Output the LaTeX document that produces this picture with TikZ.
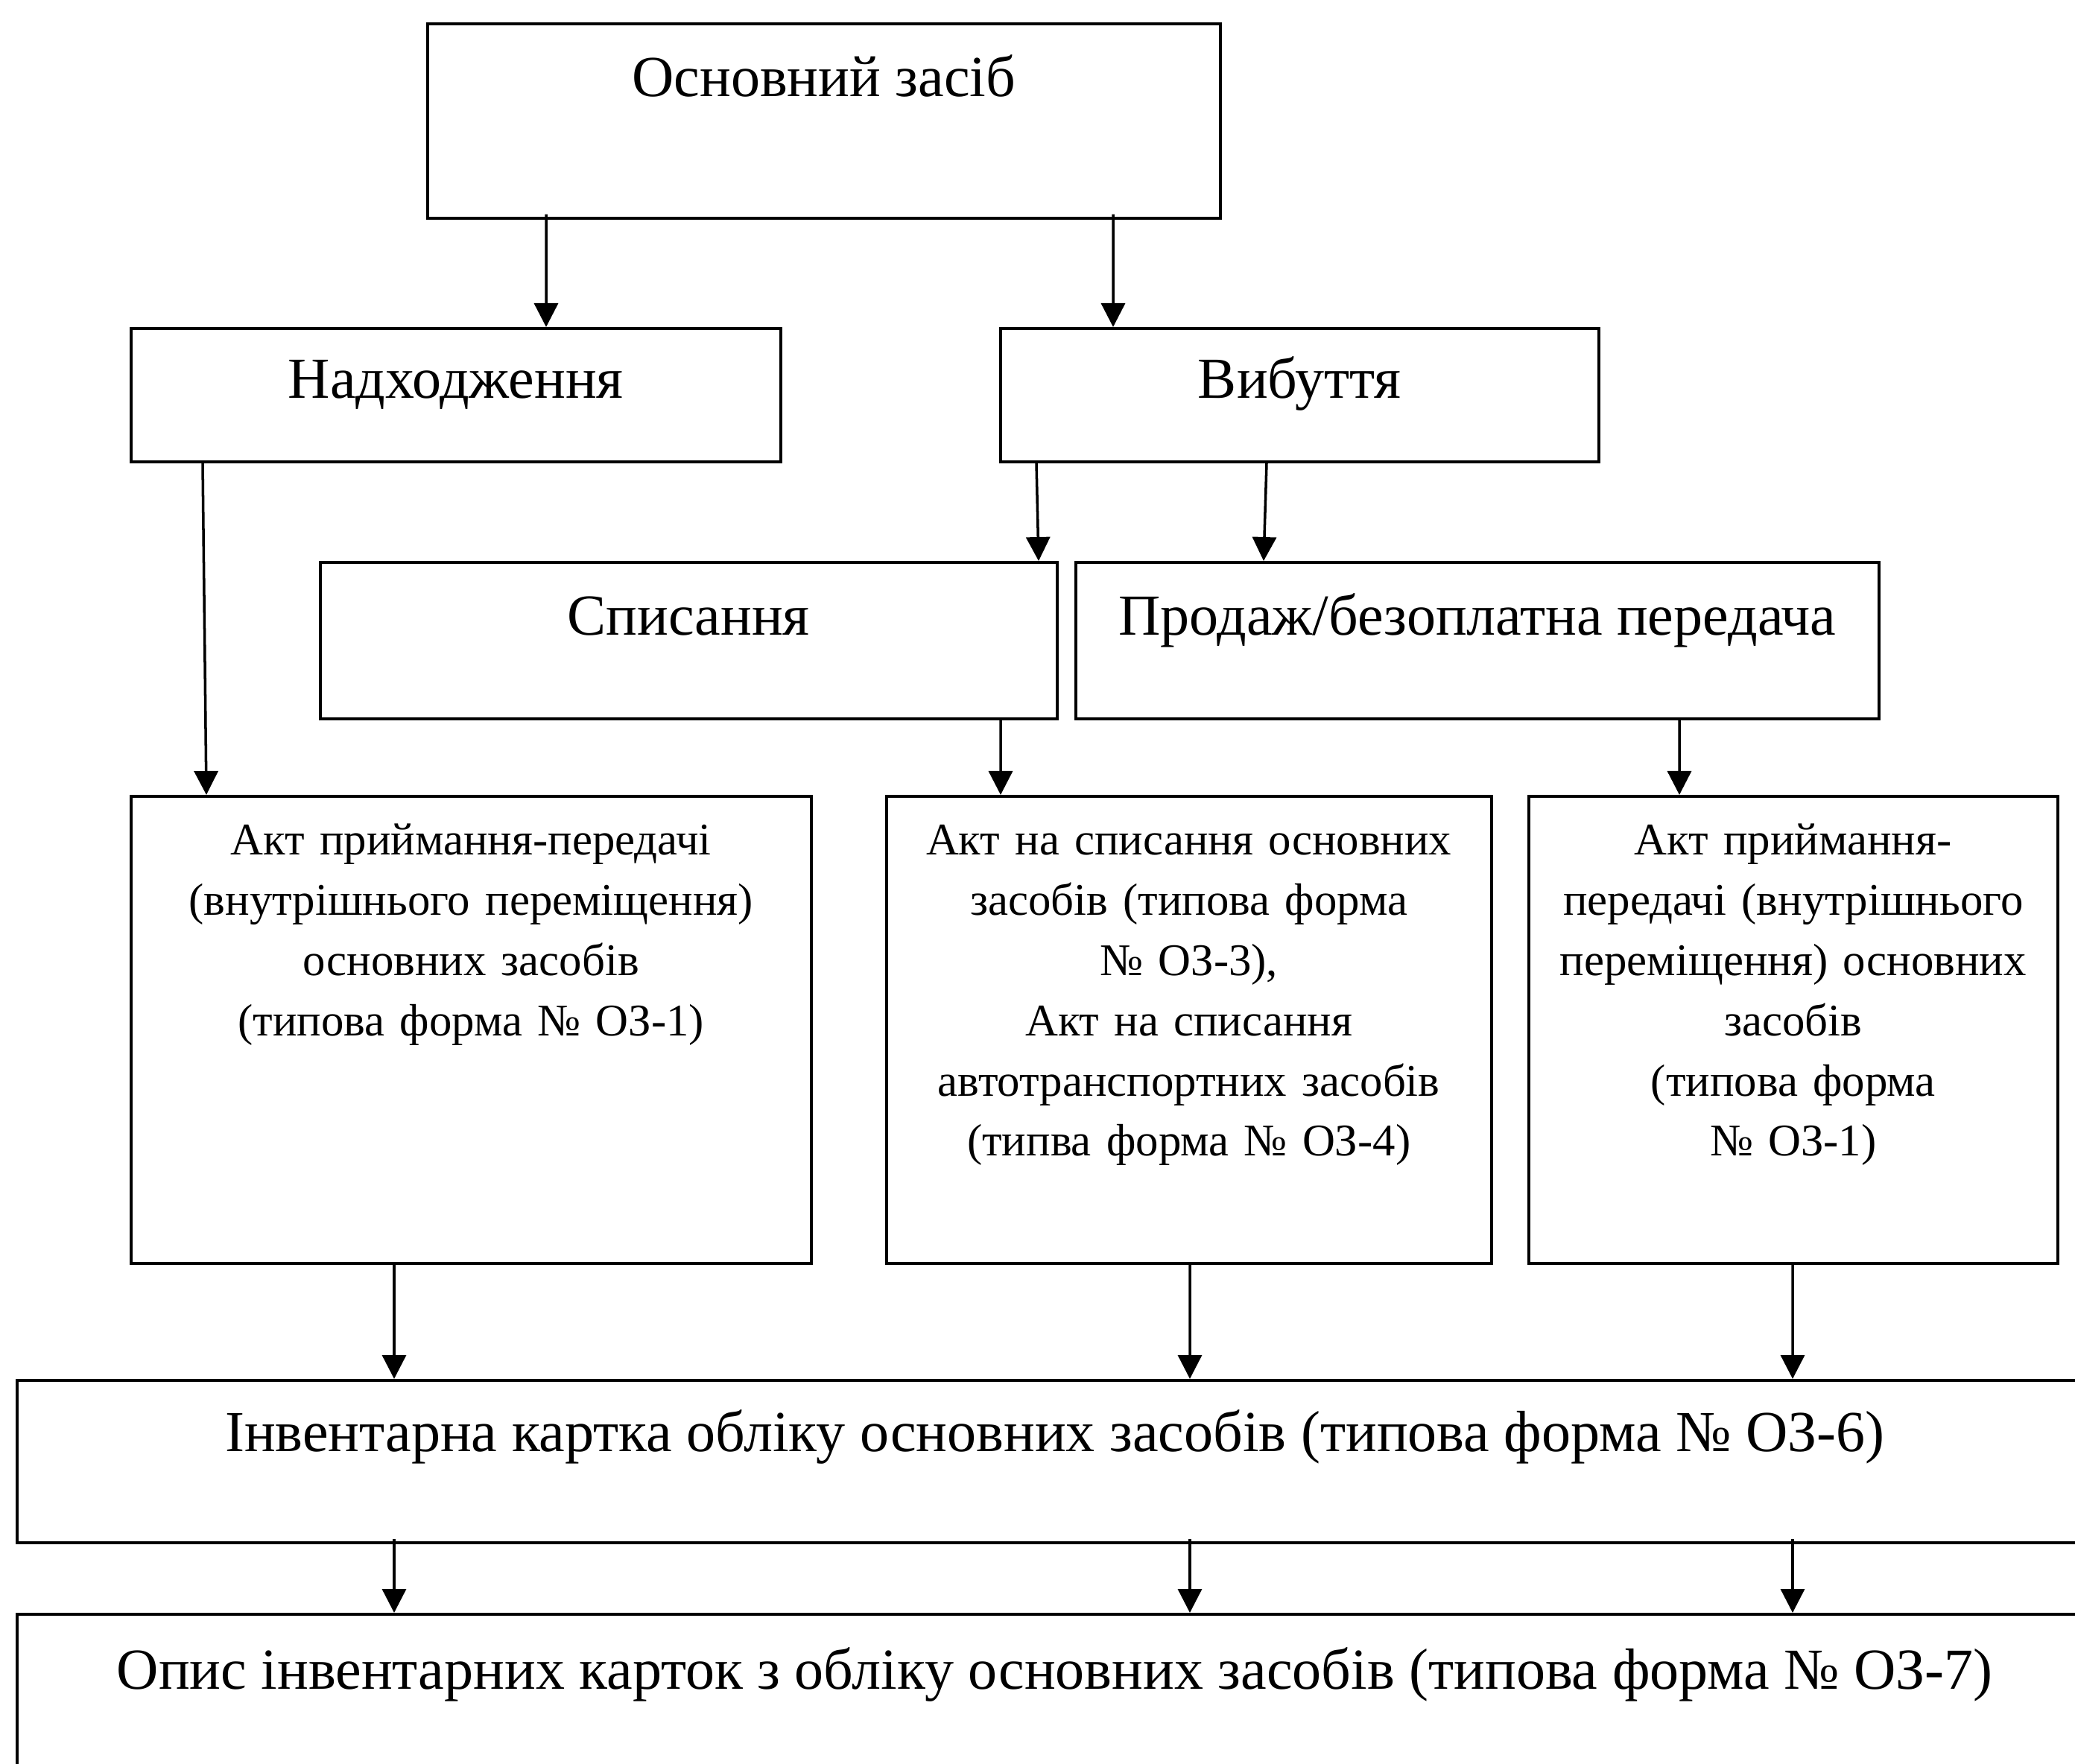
\documentclass[tikz,border=0pt]{standalone}
\usepackage{fontspec}
\setmainfont{Liberation Serif}
\usepackage{tikz}
\usetikzlibrary{arrows.meta}

\begin{document}
\begin{tikzpicture}[
  box/.style={draw, rectangle, line width=1pt, anchor=north west, inner sep=0pt},
  big/.style={font=\fontsize{22.2}{26}\selectfont},
  small/.style={font=\fontsize{17.3}{23}\selectfont, align=center},
  arr/.style={line width=1pt, -{Triangle[length=0.32cm, width=0.32cm]}}]
\useasboundingbox (0,0) rectangle (27.85,-23.68);
\clip (0,0) rectangle (27.85,-23.68);
% boxes
\node[box, big, minimum width=10.64cm, text height=0.98cm, text depth=1.63cm] (zasib) at (5.72,-0.30) {Основний засіб};
\node[box, big, minimum width=8.72cm, text height=0.94cm, text depth=0.85cm] (nadh) at (1.74,-4.39) {Надходження};
\node[box, big, minimum width=8.03cm, text height=0.94cm, text depth=0.85cm] (vyb) at (13.41,-4.39) {Вибуття};
\node[box, big, minimum width=9.89cm, text height=0.98cm, text depth=1.12cm] (spys) at (4.28,-7.53) {Списання};
\node[box, big, minimum width=10.78cm, text height=0.98cm, text depth=1.12cm] (prod) at (14.42,-7.53) {Продаж/безоплатна передача};
\node[box, small, text width=9.13cm, text height=0.79cm, text depth=5.48cm] (akt1) at (1.74,-10.67) {Акт приймання-передачі\\(внутрішнього переміщення)\\основних засобів\\(типова форма № ОЗ-1)};
\node[box, small, text width=8.12cm, text height=0.79cm, text depth=5.48cm] (akt2) at (11.88,-10.67) {Акт на списання основних\\засобів (типова форма\\№ ОЗ-3),\\Акт на списання\\автотранспортних засобів\\(типва форма № ОЗ-4)};
\node[box, small, text width=7.10cm, text height=0.79cm, text depth=5.48cm] (akt3) at (20.50,-10.67) {Акт приймання-\\передачі (внутрішнього\\переміщення) основних\\засобів\\(типова форма\\№ ОЗ-1)};
\node[box, big, minimum width=27.86cm, text height=0.96cm, text depth=1.22cm] (inv) at (0.21,-18.51) {Інвентарна картка обліку основних засобів (типова форма № ОЗ-6)};
\node[box, big, minimum width=27.86cm, text height=1.01cm, text depth=2.00cm] (opys) at (0.21,-21.65) {Опис інвентарних карток з обліку основних засобів (типова форма № ОЗ-7)};
% arrows
\draw[arr] ([xshift=1.61cm, yshift=0.07cm]zasib.south west) -- ([xshift=5.59cm]nadh.north west);
\draw[arr] ([xshift=9.22cm, yshift=0.07cm]zasib.south west) -- ([xshift=1.53cm]vyb.north west);
\draw[arr] ([xshift=0.98cm]nadh.south west) -- ([xshift=1.03cm]akt1.north west);
\draw[arr] ([xshift=0.50cm]vyb.south west) -- ([xshift=9.66cm]spys.north west);
\draw[arr] ([xshift=3.59cm]vyb.south west) -- ([xshift=2.54cm]prod.north west);
\draw[arr] ([xshift=9.15cm]spys.south west) -- ([xshift=1.55cm]akt2.north west);
\draw[arr] ([xshift=8.12cm]prod.south west) -- ([xshift=2.04cm]akt3.north west);
\draw[arr] ([xshift=3.55cm]akt1.south west) -- ([xshift=5.08cm]inv.north west);
\draw[arr] ([xshift=4.09cm]akt2.south west) -- ([xshift=15.76cm]inv.north west);
\draw[arr] ([xshift=3.56cm]akt3.south west) -- ([xshift=23.85cm]inv.north west);
\foreach \x in {5.08,15.76,23.85}
  \draw[arr] ([xshift=\x cm, yshift=0.07cm]inv.south west) -- ([xshift=\x cm]opys.north west);
\end{tikzpicture}
\end{document}
